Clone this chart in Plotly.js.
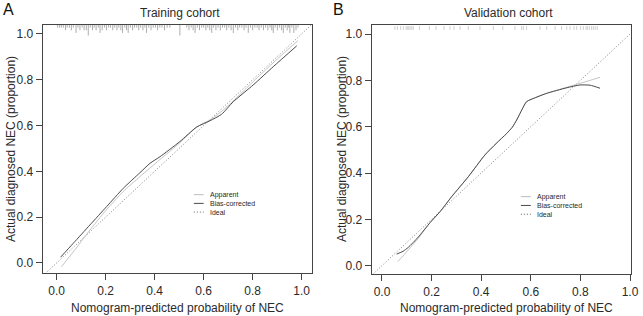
<!DOCTYPE html>
<html>
<head>
<meta charset="utf-8">
<script src="https://cdn.plot.ly/plotly-3.0.1.min.js"></script>
<style>html,body{margin:0;padding:0;background:#fff;}#chart{width:643px;height:316px;}</style>
</head>
<body>
<div id="chart"></div>
<script>
// ---------- data ----------
var tickVals = [0, 0.2, 0.4, 0.6, 0.8, 1.0];
var tickText = ['0.0', '0.2', '0.4', '0.6', '0.8', '1.0'];
var legendLabels = ['Apparent', 'Bias-corrected', 'Ideal'];
var idealLine = [-0.1, 1.1];

// Training cohort
var trainAppX  = [0.02, 0.08, 0.136, 0.20, 0.27, 0.34, 0.42, 0.50, 0.571, 0.63, 0.68, 0.75, 0.82, 0.90, 0.985];
var trainAppY  = [-0.016, 0.065, 0.144, 0.228, 0.31, 0.377, 0.45, 0.522, 0.593, 0.627, 0.668, 0.738, 0.81, 0.89, 0.971];
var trainBiasX = [0.016, 0.068, 0.136, 0.204, 0.272, 0.34, 0.381, 0.422, 0.503, 0.571, 0.626, 0.673, 0.721, 0.802, 0.884, 0.98];
var trainBiasY = [0.025, 0.086, 0.166, 0.246, 0.326, 0.394, 0.435, 0.464, 0.53, 0.593, 0.621, 0.649, 0.704, 0.777, 0.857, 0.948];
var rugTrainX = [0.004,0.012,0.019,0.027,0.036,0.043,0.052,0.060,0.068,0.079,0.087,0.095,0.104,0.112,0.121,0.129,0.137,0.146,0.153,0.161,0.170,0.177,0.186,0.195,0.203,0.212,0.220,0.229,0.237,0.246,0.254,0.262,0.269,0.278,0.285,0.292,0.301,0.310,0.318,0.327,0.335,0.343,0.352,0.360,0.367,0.376,0.385,0.394,0.403,0.412,0.421,0.430,0.440,0.451,0.462,0.503,0.531,0.540,0.549,0.557,0.565,0.574,0.583,0.592,0.600,0.609,0.617,0.625,0.633,0.641,0.650,0.659,0.668,0.677,0.686,0.694,0.703,0.712,0.721,0.730,0.739,0.747,0.756,0.765,0.773,0.782,0.791,0.800,0.809,0.818,0.826,0.835,0.844,0.853,0.862,0.871,0.878,0.884,0.892,0.901,0.910,0.918,0.925,0.933,0.941,0.947,0.952,0.960,0.968,0.977,0.985];
var rugTrainN = [1,1,1,1,2,1,1,2,1,3,1,2,1,2,2,4,1,2,1,2,1,3,2,1,2,1,1,2,1,2,1,2,3,1,2,3,1,2,1,1,2,1,2,1,3,1,2,1,1,2,1,1,2,1,1,4,1,2,1,2,3,1,2,1,1,2,1,2,3,1,2,1,2,1,1,2,1,2,3,1,2,1,1,2,1,3,1,2,1,1,2,1,2,1,2,1,2,3,1,2,1,2,3,1,2,1,3,1,3,2,1];

// Validation cohort
var valAppX  = [0.063, 0.085, 0.106, 0.146, 0.194, 0.234, 0.281, 0.348, 0.415, 0.46, 0.503, 0.525, 0.543, 0.565, 0.583, 0.62, 0.664, 0.745, 0.798, 0.839, 0.879];
var valAppY  = [0.017, 0.042, 0.068, 0.118, 0.186, 0.233, 0.298, 0.384, 0.478, 0.527, 0.571, 0.597, 0.629, 0.675, 0.708, 0.726, 0.744, 0.77, 0.787, 0.80, 0.813];
var valBiasX = [0.059, 0.085, 0.106, 0.146, 0.194, 0.234, 0.281, 0.348, 0.415, 0.46, 0.503, 0.525, 0.543, 0.565, 0.583, 0.62, 0.664, 0.745, 0.798, 0.839, 0.879];
var valBiasY = [0.05, 0.062, 0.079, 0.123, 0.186, 0.233, 0.298, 0.384, 0.478, 0.527, 0.571, 0.597, 0.629, 0.675, 0.708, 0.726, 0.744, 0.768, 0.78, 0.779, 0.766];
var rugValX = [0.052,0.062,0.075,0.086,0.097,0.102,0.108,0.113,0.120,0.126,0.151,0.191,0.218,0.250,0.274,0.290,0.315,0.348,0.395,0.449,0.487,0.536,0.563,0.570,0.583,0.637,0.664,0.698,0.724,0.745,0.758,0.774,0.785,0.801,0.812,0.823,0.828,0.836,0.845,0.852,0.860,0.868];
var rugValN = rugValX.map(function(){return 1;});

// ---------- styles ----------
var FONT = 'Liberation Sans, Arial, Helvetica, sans-serif';
var TXT = '#2a2a2a';
var C_APP = '#bdbdbd', C_BIAS = '#4a4a4a', C_IDEAL = '#606060';

var yRangeL = [-0.044, 1.039], yRangeR = [-0.036, 1.039];

function rugTrace(xs, ns, top, unit, xa, ya, color) {
  var X = [], Y = [];
  for (var i = 0; i < xs.length; i++) {
    X.push(xs[i], xs[i], null);
    Y.push(top, top - ns[i] * unit, null);
  }
  return {x: X, y: Y, xaxis: xa, yaxis: ya, mode: 'lines', line: {color: color, width: 0.7}, hoverinfo: 'skip', showlegend: false};
}

function panel(appX, appY, biasX, biasY, xa, ya) {
  return [
    {x: idealLine, y: idealLine, xaxis: xa, yaxis: ya, mode: 'lines', line: {color: C_IDEAL, width: 0.8, dash: '1px,2px'}, showlegend: false},
    {x: appX, y: appY, xaxis: xa, yaxis: ya, mode: 'lines', line: {color: C_APP, width: 0.9, shape: 'spline', smoothing: 0.6}, showlegend: false},
    {x: biasX, y: biasY, xaxis: xa, yaxis: ya, mode: 'lines', line: {color: C_BIAS, width: 1, shape: 'spline', smoothing: 0.6}, showlegend: false}
  ];
}

var traces = []
  .concat(panel(trainAppX, trainAppY, trainBiasX, trainBiasY, 'x', 'y'))
  .concat(panel(valAppX, valAppY, valBiasX, valBiasY, 'x2', 'y2'));
traces.push(rugTrace(rugTrainX, rugTrainN, yRangeL[1], 0.0115, 'x', 'y', '#8a8a8a'));
traces.push(rugTrace(rugValX, rugValN, yRangeR[1] - 0.005, 0.016, 'x2', 'y2', '#b8b8b8'));

function axisStyle(extra) {
  var a = {
    tickvals: tickVals, ticktext: tickText, ticks: 'outside', ticklen: 6, tickwidth: 1, tickcolor: '#444',
    showline: true, mirror: true, linecolor: '#444', linewidth: 1,
    showgrid: false, zeroline: false, fixedrange: true,
    tickfont: {family: FONT, size: 12, color: TXT}
  };
  for (var k in extra) a[k] = extra[k];
  return a;
}

// legend (keys + labels) in data coordinates of each panel
var legY = [0.298, 0.26, 0.222];
var legColors = [C_APP, C_BIAS, C_IDEAL];
var legDash = ['solid', 'solid', '1px,2px'];
var shapes = [], annotations = [];
[['x', 'y'], ['x2', 'y2']].forEach(function(p) {
  for (var i = 0; i < 3; i++) {
    shapes.push({type: 'line', xref: p[0], yref: p[1], x0: 0.56, x1: 0.60, y0: legY[i], y1: legY[i],
      line: {color: legColors[i], width: 1, dash: legDash[i]}});
    annotations.push({xref: p[0], yref: p[1], x: 0.617, y: legY[i], text: legendLabels[i], showarrow: false,
      xanchor: 'left', yanchor: 'middle', font: {family: FONT, size: 7, color: TXT}});
  }
});

function pa(text, x, y, size, extra) {
  var a = {xref: 'paper', yref: 'paper', x: x, y: y, text: text, showarrow: false,
    xanchor: 'center', yanchor: 'middle', font: {family: FONT, size: size, color: TXT}};
  for (var k in extra) a[k] = extra[k];
  return a;
}
var W = 643, H = 316;
annotations.push(pa('A', 8 / W, 1 - 10 / H, 16, {font: {family: FONT, size: 16, color: '#111'}}));
annotations.push(pa('B', 338 / W, 1 - 10 / H, 16, {font: {family: FONT, size: 16, color: '#111'}}));
annotations.push(pa('Training cohort', 180 / W, 1 - 13 / H, 12));
annotations.push(pa('Validation cohort', 508 / W, 1 - 13 / H, 12));
annotations.push(pa('Nomogram-predicted probability of NEC', 177 / W, 1 - 308 / H, 12));
annotations.push(pa('Nomogram-predicted probability of NEC', 506 / W, 1 - 308 / H, 12));
annotations.push(pa('Actual diagnosed NEC (proportion)', 11 / W, 1 - 149 / H, 12, {textangle: -90}));
annotations.push(pa('Actual diagnosed NEC (proportion)', 342 / W, 1 - 149 / H, 12, {textangle: -90}));

var layout = {
  width: W, height: H,
  margin: {l: 0, r: 0, t: 0, b: 0},
  paper_bgcolor: '#fff', plot_bgcolor: '#fff',
  showlegend: false,
  font: {family: FONT, color: TXT},
  xaxis: axisStyle({domain: [42.7 / W, 311.7 / W], range: [-0.057, 1.041], anchor: 'y', ticklabelstandoff: 1}),
  yaxis: axisStyle({domain: [1 - 273 / H, 1 - 25 / H], range: yRangeL, anchor: 'x'}),
  xaxis2: axisStyle({domain: [371.7 / W, 631 / W], range: [-0.0415, 1.004], anchor: 'y2', ticklabelstandoff: 1}),
  yaxis2: axisStyle({domain: [1 - 274 / H, 1 - 25 / H], range: yRangeR, anchor: 'x2'}),
  shapes: shapes,
  annotations: annotations
};

Plotly.newPlot('chart', traces, layout, {staticPlot: true, displayModeBar: false});
</script>
</body>
</html>
